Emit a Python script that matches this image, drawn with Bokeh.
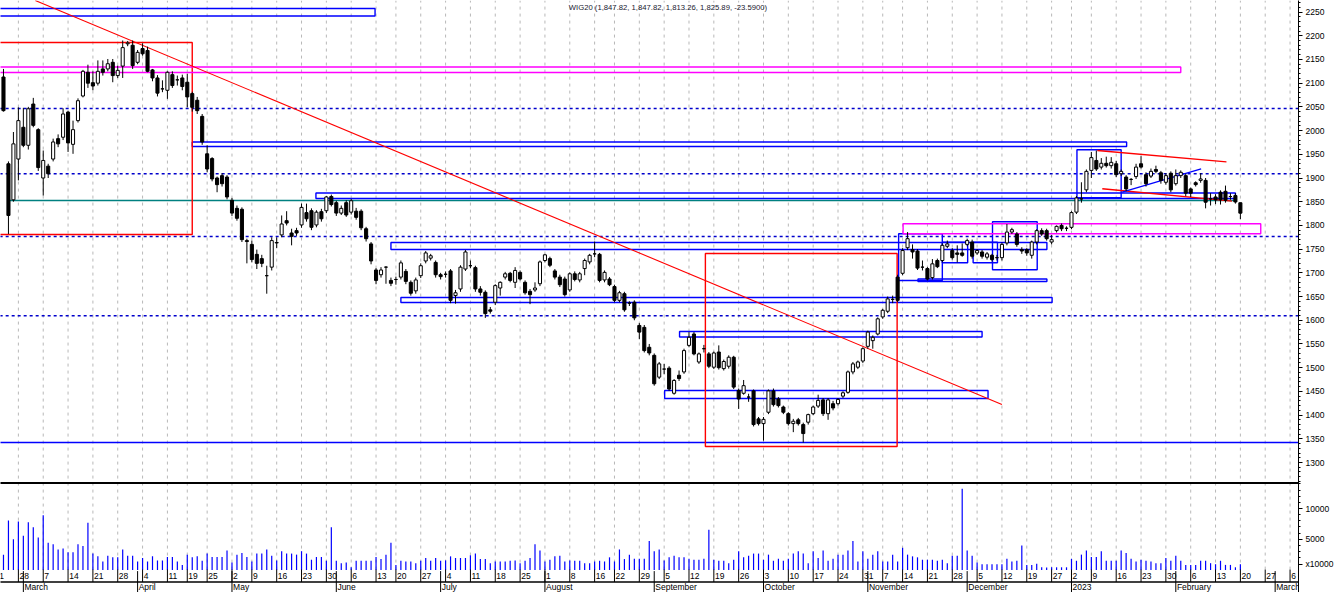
import numpy as np
import pandas as pd
from bokeh.plotting import figure
from bokeh.models import Range1d, FixedTicker, CustomJSTickFormatter
from bokeh.embed import file_html
from bokeh.resources import INLINE
from bokeh.core.properties import value

# ---------------- data ----------------
HOLIDAYS = ["2022-04-15", "2022-04-18", "2022-05-03", "2022-06-16", "2022-08-15",
            "2022-11-01", "2022-11-11", "2022-12-26", "2023-01-06"]
FIRST_DAY = "2022-02-23"

opens = [2113, 1930, 1854, 1940, 2007, 1969, 2056, 2002, 1900, 1925,
         1940, 1983, 1986, 2039, 1971, 2021, 2073, 2123, 2101, 2100,
         2130, 2130, 2144, 2116, 2136, 2183, 2180, 2144, 2173, 2169,
         2128, 2111, 2088, 2085, 2118, 2107, 2111, 2102, 2078, 2064,
         2030, 1951, 1941, 1900, 1905, 1902, 1853, 1836, 1834, 1768,
         1760, 1739, 1730, 1694, 1712, 1763, 1780, 1810, 1784, 1789,
         1801, 1827, 1831, 1801, 1829, 1831, 1861, 1848, 1826, 1848,
         1828, 1830, 1830, 1793, 1761, 1706, 1696, 1712, 1684, 1686,
         1691, 1703, 1680, 1662, 1694, 1725, 1731, 1722, 1696, 1697,
         1704, 1652, 1666, 1708, 1715, 1711, 1666, 1659, 1622, 1638,
         1668, 1691, 1699, 1680, 1701, 1680, 1661, 1664, 1677, 1726,
         1730, 1704, 1691, 1687, 1664, 1698, 1685, 1709, 1723, 1740,
         1739, 1685, 1687, 1671, 1642, 1656, 1636, 1638, 1589, 1585,
         1543, 1526, 1480, 1497, 1499, 1446, 1484, 1491, 1547, 1571,
         1512, 1540, 1529, 1501, 1533, 1498, 1503, 1522, 1452, 1446,
         1438, 1451, 1392, 1382, 1406, 1451, 1434, 1417, 1403, 1382,
         1390, 1380, 1385, 1403, 1419, 1432, 1403, 1424, 1424, 1440,
         1448, 1491, 1501, 1514, 1545, 1557, 1571, 1607, 1619, 1644,
         1691, 1699, 1753, 1749, 1746, 1712, 1709, 1690, 1726, 1726,
         1756, 1747, 1742, 1742, 1760, 1765, 1742, 1744, 1733, 1737,
         1732, 1732, 1763, 1786, 1782, 1749, 1749, 1737, 1765, 1789,
         1789, 1765, 1789, 1800, 1794, 1796, 1828, 1856, 1875, 1916,
         1937, 1923, 1931, 1926, 1930, 1909, 1902, 1897, 1903, 1930,
         1907, 1904, 1918, 1911, 1891, 1910, 1888, 1905, 1905, 1877,
         1890, 1895, 1895, 1856, 1860, 1870, 1872, 1861, 1863, 1847.82]

highs = [2130, 1935, 1997, 2049, 2048, 2050, 2069, 2005, 1958, 1930,
         1983, 1992, 2047, 2042, 2021, 2068, 2128, 2139, 2125, 2148,
         2148, 2151, 2151, 2137, 2190, 2189, 2190, 2170, 2184, 2177,
         2130, 2117, 2106, 2125, 2125, 2116, 2118, 2120, 2082, 2071,
         2035, 1969, 1944, 1903, 1910, 1906, 1858, 1842, 1838, 1772,
         1768, 1749, 1738, 1715, 1775, 1775, 1821, 1830, 1793, 1795,
         1846, 1846, 1836, 1832, 1835, 1862, 1865, 1852, 1842, 1853,
         1856, 1837, 1834, 1797, 1765, 1710, 1712, 1714, 1690, 1692,
         1726, 1708, 1684, 1690, 1720, 1746, 1740, 1726, 1700, 1703,
         1708, 1664, 1716, 1748, 1726, 1715, 1672, 1663, 1628, 1676,
         1682, 1702, 1702, 1712, 1705, 1684, 1666, 1680, 1726, 1740,
         1734, 1708, 1696, 1692, 1701, 1703, 1702, 1730, 1740, 1766,
         1742, 1705, 1691, 1675, 1662, 1660, 1640, 1642, 1594, 1590,
         1550, 1530, 1512, 1508, 1503, 1476, 1494, 1540, 1575, 1575,
         1532, 1548, 1533, 1534, 1547, 1517, 1526, 1525, 1456, 1474,
         1445, 1454, 1396, 1396, 1454, 1456, 1438, 1420, 1406, 1392,
         1394, 1384, 1403, 1420, 1443, 1436, 1436, 1430, 1436, 1450,
         1494, 1512, 1515, 1543, 1578, 1568, 1606, 1624, 1650, 1652,
         1696, 1752, 1786, 1760, 1750, 1726, 1712, 1729, 1730, 1762,
         1768, 1752, 1758, 1762, 1772, 1770, 1750, 1748, 1744, 1740,
         1738, 1764, 1803, 1795, 1786, 1754, 1752, 1768, 1792, 1794,
         1793, 1780, 1800, 1804, 1798, 1830, 1862, 1891, 1918, 1955,
         1958, 1942, 1945, 1944, 1936, 1918, 1906, 1900, 1930, 1946,
         1912, 1920, 1926, 1915, 1910, 1914, 1918, 1916, 1909, 1880,
         1893, 1910, 1900, 1868, 1866, 1874, 1884, 1868, 1868, 1847.82]

lows = [2040, 1782, 1850, 1895, 1965, 1960, 2007, 1915, 1863, 1900,
        1935, 1965, 1980, 1955, 1951, 2017, 2070, 2090, 2085, 2095,
        2116, 2125, 2102, 2111, 2111, 2178, 2130, 2140, 2158, 2123,
        2104, 2072, 2081, 2067, 2090, 2095, 2085, 2049, 2040, 2035,
        1970, 1912, 1893, 1870, 1882, 1855, 1820, 1810, 1765, 1720,
        1722, 1708, 1712, 1656, 1705, 1752, 1775, 1800, 1758, 1778,
        1795, 1808, 1790, 1796, 1808, 1826, 1840, 1820, 1822, 1818,
        1823, 1812, 1790, 1766, 1718, 1676, 1690, 1677, 1672, 1675,
        1686, 1676, 1652, 1656, 1689, 1720, 1726, 1690, 1686, 1690,
        1636, 1635, 1660, 1704, 1710, 1660, 1652, 1605, 1614, 1632,
        1652, 1686, 1680, 1668, 1684, 1654, 1634, 1660, 1672, 1722,
        1712, 1686, 1670, 1650, 1660, 1682, 1680, 1695, 1718, 1733,
        1680, 1680, 1672, 1638, 1638, 1618, 1630, 1600, 1560, 1532,
        1526, 1462, 1476, 1486, 1451, 1443, 1472, 1487, 1543, 1526,
        1508, 1532, 1499, 1497, 1496, 1494, 1498, 1455, 1413, 1443,
        1428, 1376, 1378, 1346, 1402, 1418, 1416, 1402, 1378, 1364,
        1378, 1342, 1380, 1400, 1415, 1398, 1390, 1410, 1420, 1436,
        1445, 1486, 1497, 1510, 1540, 1540, 1568, 1603, 1615, 1636,
        1638, 1695, 1748, 1730, 1706, 1705, 1684, 1686, 1710, 1722,
        1752, 1728, 1722, 1734, 1756, 1730, 1738, 1730, 1728, 1724,
        1726, 1726, 1758, 1782, 1755, 1740, 1736, 1730, 1760, 1778,
        1768, 1760, 1785, 1788, 1788, 1792, 1824, 1848, 1870, 1900,
        1915, 1918, 1922, 1920, 1902, 1904, 1872, 1885, 1898, 1920,
        1882, 1900, 1910, 1888, 1886, 1870, 1884, 1900, 1862, 1860,
        1882, 1890, 1836, 1842, 1845, 1844, 1848, 1854, 1846, 1813.26]

closes = [2042, 1821, 1972, 2021, 1969, 2046, 2011, 1922, 1937, 1909,
          1976, 1972, 2035, 1974, 2002, 2063, 2125, 2100, 2094, 2125,
          2123, 2141, 2116, 2127, 2175, 2185, 2137, 2165, 2162, 2125,
          2111, 2079, 2088, 2123, 2095, 2107, 2093, 2071, 2049, 2042,
          1976, 1919, 1898, 1886, 1888, 1860, 1826, 1815, 1770, 1766,
          1728, 1720, 1720, 1694, 1768, 1764, 1803, 1805, 1777, 1784,
          1838, 1814, 1796, 1828, 1814, 1860, 1844, 1826, 1836, 1822,
          1852, 1817, 1795, 1772, 1725, 1684, 1706, 1712, 1678, 1686,
          1721, 1682, 1657, 1685, 1715, 1742, 1736, 1696, 1692, 1697,
          1642, 1658, 1712, 1744, 1715, 1666, 1659, 1614, 1619, 1673,
          1680, 1698, 1684, 1705, 1687, 1658, 1654, 1668, 1723, 1738,
          1716, 1691, 1675, 1654, 1698, 1686, 1698, 1726, 1737, 1740,
          1684, 1701, 1675, 1642, 1658, 1622, 1636, 1605, 1575, 1536,
          1531, 1466, 1508, 1497, 1455, 1473, 1477, 1536, 1564, 1529,
          1529, 1540, 1503, 1531, 1500, 1513, 1522, 1459, 1434, 1462,
          1438, 1380, 1382, 1391, 1451, 1422, 1420, 1406, 1382, 1387,
          1382, 1361, 1401, 1417, 1431, 1403, 1432, 1415, 1433, 1447,
          1491, 1508, 1512, 1540, 1575, 1564, 1603, 1621, 1645, 1644,
          1642, 1747, 1772, 1744, 1710, 1712, 1687, 1719, 1713, 1758,
          1761, 1732, 1739, 1737, 1768, 1735, 1747, 1735, 1740, 1728,
          1732, 1760, 1786, 1791, 1760, 1746, 1742, 1765, 1789, 1782,
          1772, 1770, 1798, 1793, 1794, 1827, 1858, 1856, 1914, 1943,
          1919, 1931, 1926, 1933, 1907, 1914, 1877, 1897, 1923, 1923,
          1888, 1914, 1914, 1895, 1905, 1875, 1905, 1912, 1868, 1868,
          1886, 1898, 1849, 1856, 1854, 1854, 1853, 1861, 1849.48, 1825.89]

volumes = [2500, 8060, 5000, 7900, 5560, 7780, 6950, 5280, 8900, 4450,
           4170, 3340, 3500, 2890, 2890, 4170, 3890, 7670, 2670, 2220,
           1390, 2330, 2060, 2060, 3340, 2330, 2330, 1390, 1950, 1390,
           2220, 1560, 1560, 2110, 2110, 1390, 830, 2500, 2060, 2220,
           1500, 2670, 2110, 2110, 2110, 3170, 1220, 2500, 2780, 2110,
           1390, 2670, 2670, 3340, 2330, 1560, 3060, 2670, 2670, 2500,
           3060, 2670, 1670, 2110, 2110, 1500, 6950, 1500, 1110, 1220,
           440, 1500, 1500, 1500, 1500, 2110, 1780, 2500, 4450, 830,
           1500, 1390, 1390, 1110, 1500, 1950, 1500, 1950, 1500, 1560,
           2220, 1950, 1950, 1950, 2390, 2670, 1780, 1780, 1110, 1390,
           1390, 1390, 1500, 1560, 1110, 1500, 1950, 4170, 3170, 1390,
           1670, 2220, 2330, 1390, 1560, 1500, 1500, 1110, 1110, 1390,
           1500, 1390, 2060, 1390, 3340, 1780, 2500, 1830, 1830, 1830,
           4720, 3060, 3340, 1550,
           2060, 2330, 2060, 2060, 1830, 1670, 1670, 1830, 6560, 1670,
           1500, 1500, 1110, 1670, 3060, 2060, 2330, 2670, 2670, 1670,
           2500, 1500, 1830, 1500, 1830, 2670, 3060, 2670, 1110, 3060,
           1950, 3170, 1500, 1830, 2500, 2500, 3170, 4720, 1390, 3060,
           1830, 2500, 3060, 1390, 1390, 2500, 1390, 3610, 2500, 2220,
           2060, 1670, 1670, 1670, 1500, 1670, 1110, 2330, 2330, 13220,
           3170, 2330, 1220, 940, 940, 940, 940, 940, 1830, 1390,
           1500, 4000, 830, 830, 1000, 440, 390, 440, 440, 440,
           440, 1830, 1500, 2500, 3170, 2110, 2110, 3060, 1500, 1500,
           1500, 3170, 2780, 1830, 1390, 1670, 1500, 1390, 1110, 1110,
           1950, 1500, 2330, 1500, 830, 830, 830, 1500, 1500, 1110,
           940, 1500, 830, 830, 440, 940]

# drawn studies (x in trading-day index, y in index points)
trend_x = [6.4, 201.0]
trend_y = [2274.4, 1422.3]
dashed_levels = [2046.6, 1908.9, 1776.6, 1609.4]
support_level = 1342.2
teal_x = [1.15, 248.0]
teal_level = 1852.6

blue_left = [-3, 38.0, 62.9, 78.0, 80.0, 136.1, 133.1, 180.2, 184.1, 189.0, 195.2, 199.1, 216.1]
blue_right = [74.8, 226.1, 248.0, 210.05, 211.1, 197.0, 198.2, 189.0, 210.05, 194.1, 200.1, 208.1, 225.0]
blue_bottom = [2241.7, 1966.4, 1856.8, 1749.2, 1637.4, 1564.7, 1435.0, 1683.8, 1681.7, 1721.2, 1721.2, 1706.4, 1858.3]
blue_top = [2257.5, 1975.9, 1868.4, 1764.0, 1648.0, 1576.3, 1451.8, 1782.3, 1687.0, 1764.6, 1764.6, 1807.6, 1959.5]

red_left = [-3, 141.3]
red_right = [38.0, 179.9]
red_bottom = [1780.9, 1333.7]
red_top = [2185.8, 1740.8]

mag_left = [-3, 181.1]
mag_right = [237.0, 253.1]
mag_bottom = [2122.5, 1782.3]
mag_top = [2134.1, 1803.4]

red_seg_x0 = [220.2, 221.2]
red_seg_y0 = [1958.0, 1877.3]
red_seg_x1 = [246.2, 247.3]
red_seg_y1 = [1934.2, 1851.1]
blue_seg_x0 = [225.2]
blue_seg_y0 = [1870.1]
blue_seg_x1 = [241.1]
blue_seg_y1 = [1919.4]

# ---------------- calendar / tick labels ----------------
dates = pd.bdate_range("2022-02-21", "2023-03-10", freq="C", holidays=HOLIDAYS)
start = dates.get_loc(pd.Timestamp(FIRST_DAY))
pos = np.arange(len(dates)) - start
week_pos, week_lab, month_pos, month_lab = [], [], [], []
for k, d in enumerate(dates):
    if k == 0 or d.isocalendar()[1] != dates[k - 1].isocalendar()[1]:
        week_pos.append(int(pos[k]))
        week_lab.append(str(d.day))
    if k > 0 and d.month != dates[k - 1].month:
        month_pos.append(int(pos[k]))
        month_lab.append(str(d.year) if d.month == 1 else d.strftime("%B"))

last_chg = closes[-1] - closes[-2]
title_text = "WIG20 ({:,.2f}, {:,.2f}, {:,.2f}, {:,.2f}, {:.4f})".format(
    opens[-1], highs[-1], lows[-1], closes[-1], last_chg)

# ---------------- layout constants ----------------
X_LO, X_HI = -0.6, 260.7
P_LO, P_HI = 1025.83, 2274.36      # price scale over the whole frame height
V_LO, V_HI = -3658.5, 92601.6      # volume scale over the whole frame height
SEP_PANEL = 1256.8                 # line between price and volume panels
GRID_BOTTOM = 1074.2
DAY_TICK = (1074.2, 1048.0)
MONTH_TICK = (1071.0, 1025.83)
DAY_Y, MONTH_Y = 1061.0, 1036.4
ROW_SEP = 1048.0
FONT = "Liberation Sans"


def vol_to_price(v):
    return P_LO + (v - V_LO) / (V_HI - V_LO) * (P_HI - P_LO)


p = figure(width=1336, height=592, output_backend="svg", toolbar_location=None,
           x_range=Range1d(X_LO, X_HI), y_range=Range1d(P_LO, P_HI),
           x_axis_location=None, y_axis_location="right",
           min_border_left=0, min_border_top=0, min_border_bottom=0, min_border_right=36)
p.extra_y_ranges = {"vol": Range1d(V_LO, V_HI)}
p.xgrid.visible = False
p.ygrid.visible = False
p.outline_line_color = None
p.background_fill_color = "white"
p.border_fill_color = "white"

# right axis (price + volume labels + volume multiplier tag)
ax = p.yaxis[0]
major = [float(v) for v in range(1300, 2251, 50)] + [vol_to_price(v) for v in (5000, 10000, 900)]
minor = [float(v) for v in range(1260, 2271, 10)] + [vol_to_price(v) for v in range(2000, 15000, 1000)]
ax.ticker = FixedTicker(ticks=major, minor_ticks=minor)
ax.formatter = CustomJSTickFormatter(args=dict(plo=P_LO, phi=P_HI, vlo=V_LO, vhi=V_HI), code="""
    if (tick >= 1280) { return tick.toFixed(0); }
    const v = vlo + (tick - plo) / (phi - plo) * (vhi - vlo);
    if (v < 2500) { return "x10000"; }
    return (Math.round(v / 1000) * 1000).toFixed(0);
""")
ax.major_label_text_font = FONT
ax.major_label_text_font_size = "8.5px"
ax.major_label_text_color = "black"
ax.major_tick_out = 4
ax.major_tick_in = 0
ax.minor_tick_out = 2
ax.minor_tick_in = 0
ax.major_label_standoff = 3
ax.axis_line_color = "black"
ax.major_tick_line_color = "black"
ax.minor_tick_line_color = "black"

# vertical weekly grid
p.segment(x0=week_pos, y0=[GRID_BOTTOM] * len(week_pos), x1=week_pos, y1=[P_HI] * len(week_pos),
          line_color="#b8b8b8", line_dash="3 4", line_width=1)

# horizontal studies
for lvl in dashed_levels:
    p.line([X_LO - 5, X_HI + 5], [lvl, lvl], line_color="#0000cc", line_dash="3 3", line_width=1.4)
p.line([X_LO - 5, X_HI + 5], [support_level, support_level], line_color="#0000ff", line_width=1.4)
p.line(teal_x, [teal_level, teal_level], line_color="#008080", line_width=1.4)

p.quad(left=blue_left, right=blue_right, bottom=blue_bottom, top=blue_top,
       fill_color=None, line_color="#0000ff", line_width=1.4)
p.quad(left=red_left, right=red_right, bottom=red_bottom, top=red_top,
       fill_color=None, line_color="#ff0000", line_width=1.4)
p.quad(left=mag_left, right=mag_right, bottom=mag_bottom, top=mag_top,
       fill_color=None, line_color="#ff00ff", line_width=1.4)

p.line(trend_x, trend_y, line_color="#ff0000", line_width=1.1)
p.segment(x0=red_seg_x0, y0=red_seg_y0, x1=red_seg_x1, y1=red_seg_y1, line_color="#ff0000", line_width=1.3)
p.segment(x0=blue_seg_x0, y0=blue_seg_y0, x1=blue_seg_x1, y1=blue_seg_y1, line_color="#0000ff", line_width=1.3)

# candles
xs = np.arange(len(opens))
o = np.array(opens, dtype=float)
h = np.array(highs, dtype=float)
l = np.array(lows, dtype=float)
c = np.array(closes, dtype=float)
up = c >= o
dn = ~up
p.segment(x0=xs, y0=l, x1=xs, y1=h, line_color="black", line_width=1)
p.vbar(x=xs[up], width=0.62, top=c[up], bottom=o[up], fill_color="white", line_color="black", line_width=1)
p.vbar(x=xs[dn], width=0.62, top=o[dn], bottom=c[dn], fill_color="black", line_color="black", line_width=1)

# volume
vol = np.array(volumes, dtype=float)
p.segment(x0=xs, y0=np.zeros(len(vol)), x1=xs, y1=vol, y_range_name="vol",
          line_color="#0000ff", line_width=1.2)

# panel separators
p.line([X_LO - 5, X_HI + 5], [SEP_PANEL, SEP_PANEL], line_color="black", line_width=2)
p.line([X_LO - 5, X_HI + 5], [ROW_SEP, ROW_SEP], line_color="black", line_width=1.3)

# date axis rows
p.segment(x0=week_pos, y0=[DAY_TICK[0]] * len(week_pos), x1=week_pos, y1=[DAY_TICK[1]] * len(week_pos),
          line_color="black", line_width=1)
p.segment(x0=month_pos, y0=[MONTH_TICK[0]] * len(month_pos), x1=month_pos, y1=[MONTH_TICK[1]] * len(month_pos),
          line_color="black", line_width=1)
p.text(x=[v + 0.22 for v in week_pos], y=[DAY_Y] * len(week_pos), text=week_lab,
       text_font=value(FONT), text_font_size="8.5px", text_color="black",
       text_align="left", text_baseline="middle")
p.text(x=[v + 0.22 for v in month_pos], y=[MONTH_Y] * len(month_pos), text=month_lab,
       text_font=value(FONT), text_font_size="8.5px", text_color="black",
       text_align="left", text_baseline="middle")

# title inside the chart
p.text(x=[113.8], y=[2259.6], text=[title_text], text_font=value(FONT), text_font_size="7.7px",
       text_color="#202030", text_align="left", text_baseline="middle")

open("out.html", "w").write(file_html(p, INLINE))
